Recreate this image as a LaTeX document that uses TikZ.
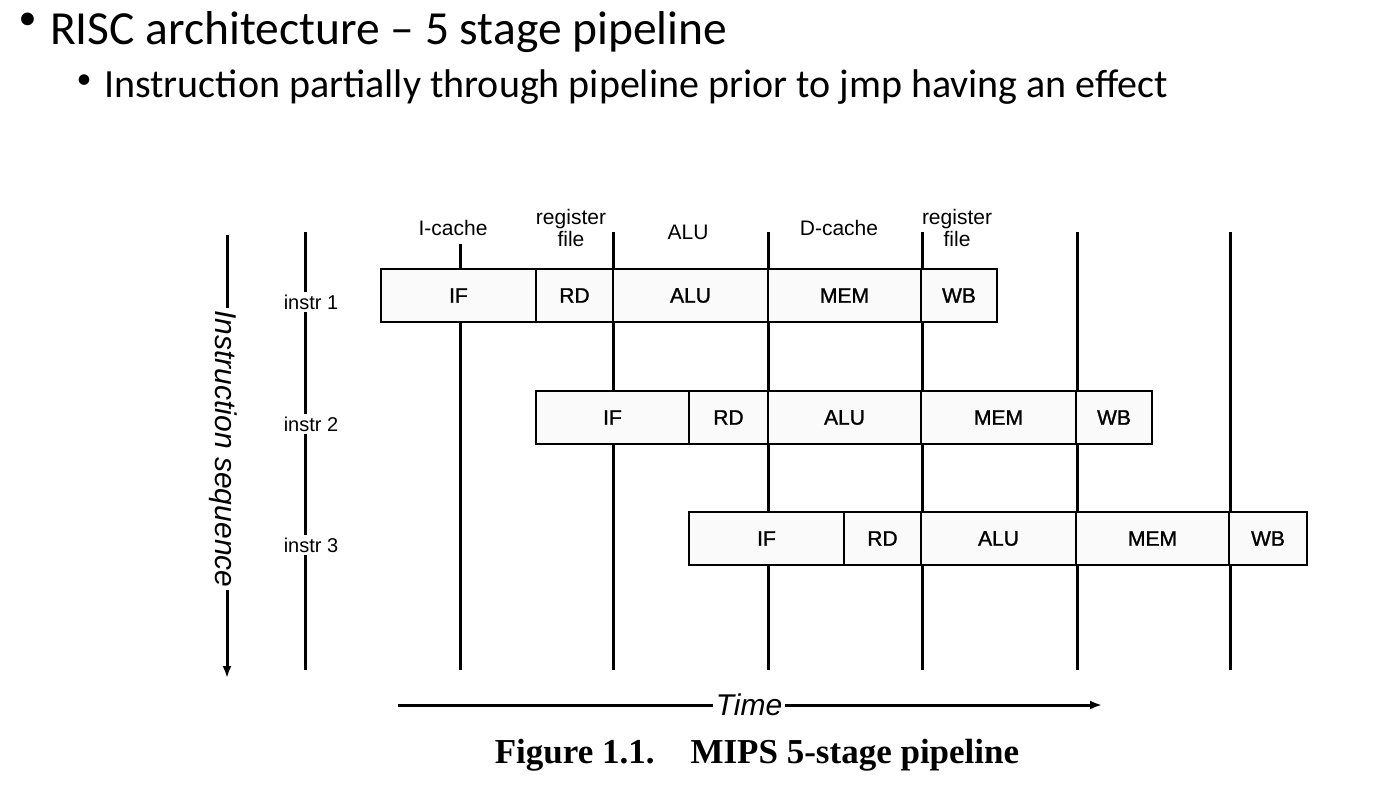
\documentclass[tikz,border=0pt]{standalone}
\usepackage{fontspec}
\setmainfont{Liberation Sans}
\newfontfamily\slidefont{Carlito}
\newfontfamily\capfont{Liberation Serif}
\newfontfamily\stagefont[FakeBold=1.2]{Liberation Sans}
\usetikzlibrary{arrows.meta}
\begin{document}
\begin{tikzpicture}[x=1pt,y=-1pt,
  vline/.style={line width=3pt},
  stage/.style={draw, line width=1.3pt, fill=black!2, minimum height=53pt, inner sep=0pt,
    font=\stagefont\fontsize{21}{24}\selectfont},
  hdr/.style={font=\fontsize{21}{22}\selectfont, align=center, inner sep=0pt},
  instr/.style={fill=white, inner sep=3pt, font=\fontsize{20}{22}\selectfont},
  axislbl/.style={fill=white, inner sep=3pt, font=\fontsize{30}{32}\selectfont\itshape},
  arrowline/.style={line width=3pt, -{Latex[length=12pt,width=9pt]}},
  slide/.style={inner sep=0pt, anchor=base west},
  bullet/.style={inner sep=0pt, anchor=center}
]
\useasboundingbox (0,0) rectangle (1396,790);

% slide text
\node[bullet, font=\slidefont\fontsize{36}{40}\selectfont] (b1) at (27.5,21) {•};
\node[slide, font=\slidefont\fontsize{47.5}{50}\selectfont] (t1) at (50,44) {RISC architecture – 5 stage pipeline};
\node[bullet, font=\slidefont\fontsize{30}{32}\selectfont] (b2) at (84,82) {•};
\node[slide, font=\slidefont\fontsize{40}{44}\selectfont] (t2) at (104,97) {Instruction partially through pipeline prior to jmp having an effect};

% header labels
\node[hdr] (hic) at (453,228) {I-cache};
\node[hdr] (hrf1) at (571,228) {register\\file};
\node[hdr] (halu) at (688,232) {ALU};
\node[hdr] (hdc) at (839,228) {D-cache};
\node[hdr] (hrf2) at (957,228) {register\\file};

% vertical time lines
\coordinate (l0t) at (305,232); \coordinate (l0b) at (305,670);
\coordinate (l1t) at (460,244); \coordinate (l1b) at (460,670);
\coordinate (l2t) at (613,232); \coordinate (l2b) at (613,670);
\coordinate (l3t) at (768,232); \coordinate (l3b) at (768,670);
\coordinate (l4t) at (922,232); \coordinate (l4b) at (922,670);
\coordinate (l5t) at (1077,232); \coordinate (l5b) at (1077,670);
\coordinate (l6t) at (1230,232); \coordinate (l6b) at (1230,670);
\foreach \i in {0,...,6} { \draw[vline] (l\i t) -- (l\i b); }

% instruction labels
\node[instr] (i1) at (311,302) {instr 1};
\node[instr] (i2) at (311,424) {instr 2};
\node[instr] (i3) at (311,545) {instr 3};

% row 1
\node[stage, minimum width=155pt] (r1if)  at (458.5,295.5) {IF};
\node[stage, minimum width=77pt]  (r1rd)  at (574.5,295.5) {RD};
\node[stage, minimum width=155pt] (r1alu) at (690.5,295.5) {ALU};
\node[stage, minimum width=153pt] (r1mem) at (844.5,295.5) {MEM};
\node[stage, minimum width=76pt]  (r1wb)  at (959,295.5) {WB};
% row 2
\node[stage, minimum width=153pt] (r2if)  at (612.5,417.5) {IF};
\node[stage, minimum width=79pt]  (r2rd)  at (728.5,417.5) {RD};
\node[stage, minimum width=153pt] (r2alu) at (844.5,417.5) {ALU};
\node[stage, minimum width=155pt] (r2mem) at (998.5,417.5) {MEM};
\node[stage, minimum width=76pt]  (r2wb)  at (1114,417.5) {WB};
% row 3
\node[stage, minimum width=155pt] (r3if)  at (766.5,538.5) {IF};
\node[stage, minimum width=77pt]  (r3rd)  at (882.5,538.5) {RD};
\node[stage, minimum width=155pt] (r3alu) at (998.5,538.5) {ALU};
\node[stage, minimum width=153pt] (r3mem) at (1152.5,538.5) {MEM};
\node[stage, minimum width=78pt]  (r3wb)  at (1268,538.5) {WB};

% instruction sequence axis
\coordinate (seqt) at (227,235);
\coordinate (seqb) at (227,678);
\draw[arrowline] (seqt) -- (seqb);
\node[axislbl, rotate=-90] (seq) at (223,449) {Instruction sequence};

% time axis
\coordinate (tl) at (398,705);
\coordinate (tr) at (1102,705);
\draw[arrowline] (tl) -- (tr);
\node[axislbl] (time) at (749,705) {Time};

% caption
\node[inner sep=0pt, font=\capfont\bfseries\fontsize{35}{38}\selectfont] (cap) at (757,755) {Figure 1.1.\hspace{36pt}MIPS 5-stage pipeline};
\end{tikzpicture}
\end{document}
